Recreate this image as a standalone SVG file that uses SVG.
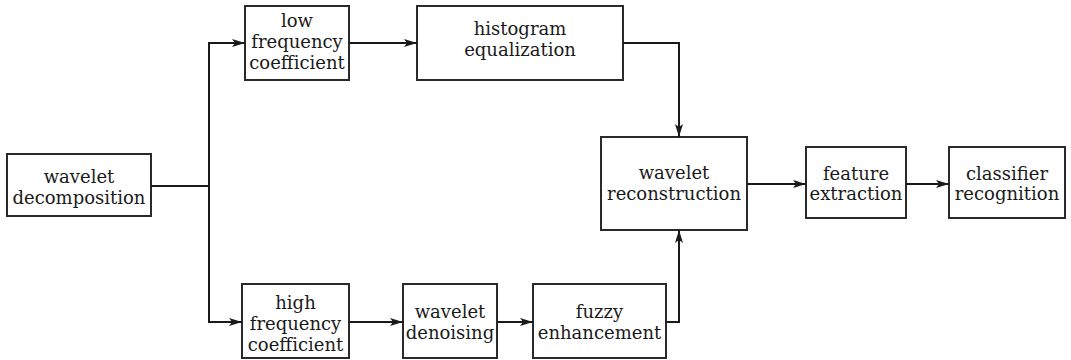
<svg xmlns="http://www.w3.org/2000/svg" width="1071" height="360" viewBox="0 0 1071 360">
<style>
.box{fill:#fff;stroke:#2a2a2a;stroke-width:2}
.lbl{font-family:'DejaVu Serif','Liberation Serif',serif;font-size:18px;fill:#1a1a1a;text-anchor:middle}
.wire{fill:none;stroke:#1a1a1a;stroke-width:2}
</style>
<defs>
<marker id="arr" markerUnits="userSpaceOnUse" markerWidth="14" markerHeight="10" refX="13" refY="4" orient="auto">
<path d="M0,0 L13,4 L0,8 L3,4 z" fill="#1a1a1a"/>
</marker>
</defs>
<rect width="1071" height="360" fill="#fff"/>
<g id="wavelet-decomposition"><rect class="box" x="7" y="154" width="144" height="62"/><text class="lbl" x="79" y="183">wavelet</text><text class="lbl" x="79" y="204">decomposition</text></g>
<g id="low-frequency"><rect class="box" x="245" y="6" width="104" height="74"/><text class="lbl" x="297" y="27">low</text><text class="lbl" x="297" y="48">frequency</text><text class="lbl" x="297" y="69">coefficient</text></g>
<g id="histogram"><rect class="box" x="417" y="6" width="206" height="74"/><text class="lbl" x="520" y="35">histogram</text><text class="lbl" x="520" y="56">equalization</text></g>
<g id="high-frequency"><rect class="box" x="242" y="284" width="107" height="74"/><text class="lbl" x="295.5" y="309">high</text><text class="lbl" x="295.5" y="330">frequency</text><text class="lbl" x="295.5" y="351">coefficient</text></g>
<g id="wavelet-denoising"><rect class="box" x="403" y="284" width="94" height="74"/><text class="lbl" x="450" y="318">wavelet</text><text class="lbl" x="450" y="339">denoising</text></g>
<g id="fuzzy"><rect class="box" x="533" y="284" width="133" height="74"/><text class="lbl" x="599.5" y="318">fuzzy</text><text class="lbl" x="599.5" y="339">enhancement</text></g>
<g id="wavelet-reconstruction"><rect class="box" x="601" y="137" width="146" height="93"/><text class="lbl" x="674" y="179">wavelet</text><text class="lbl" x="674" y="200">reconstruction</text></g>
<g id="feature"><rect class="box" x="806" y="147" width="100" height="71"/><text class="lbl" x="856" y="180">feature</text><text class="lbl" x="856" y="200">extraction</text></g>
<g id="classifier"><rect class="box" x="949" y="147" width="116" height="71"/><text class="lbl" x="1007" y="180">classifier</text><text class="lbl" x="1007" y="200">recognition</text></g>
<g id="connectors">
<path class="wire" d="M151,186 H209"/>
<path class="wire" d="M209,186 V43 H245" marker-end="url(#arr)"/>
<path class="wire" d="M209,186 V322 H242" marker-end="url(#arr)"/>
<path class="wire" d="M349,43 H417" marker-end="url(#arr)"/>
<path class="wire" d="M623,43 H679 V137" marker-end="url(#arr)"/>
<path class="wire" d="M349,322 H403" marker-end="url(#arr)"/>
<path class="wire" d="M497,322 H533" marker-end="url(#arr)"/>
<path class="wire" d="M666,322 H679 V230" marker-end="url(#arr)"/>
<path class="wire" d="M747,184 H806" marker-end="url(#arr)"/>
<path class="wire" d="M906,184 H949" marker-end="url(#arr)"/>
</g>
</svg>
